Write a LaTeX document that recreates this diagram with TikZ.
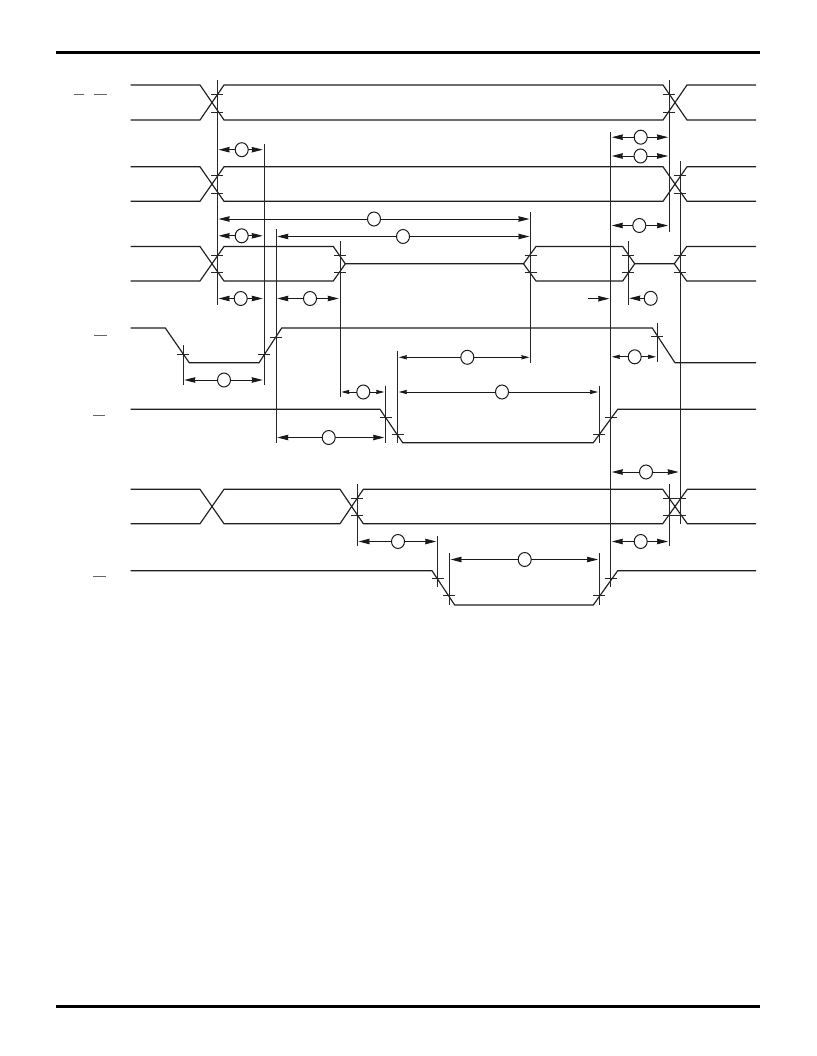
\documentclass[tikz,border=0pt]{standalone}
\usetikzlibrary{arrows.meta,shapes.geometric}
\tikzset{
  x=1pt,y=-1pt,
  wave/.style={line width=1.15pt,line join=miter,draw=black!88},
  mark line/.style={line width=1pt,draw=black!85},
  tick/.style={line width=0.85pt,draw=black!85},
  rule/.style={line width=3pt,draw=black},
  bar/.style={line width=0.9pt,draw=black!60},
  bubble/.style={ellipse,draw=black!90,line width=1pt,fill=white,minimum width=13pt,minimum height=14pt,inner sep=0pt,outer sep=0pt},
  dim/.style={line width=0.85pt,draw=black!90,-{Stealth[length=11pt,width=5.5pt,inset=0.5pt]},shorten >=1.3pt},
  smalldim/.style={line width=0.85pt,draw=black!90,-{Stealth[length=8pt,width=4.2pt,inset=0.5pt]},shorten >=1.3pt}
}
% dimension line: #1 name, #2 y, #3 left x, #4 right x, #5 bubble x, #6 style
\newcommand{\dimbar}[6]{%
  \coordinate (#1L) at (#3,#2);
  \coordinate (#1R) at (#4,#2);
  \node[bubble] (#1) at (#5,#2) {};
  \draw[#6] (#1) -- (#1L);
  \draw[#6] (#1) -- (#1R);
}
% pair of ticks at one x
\newcommand{\tickat}[2]{\draw[tick] (#1-6,#2) -- (#1+6,#2);}
\newcommand{\vmark}[3]{\draw[mark line] (#1,#2) -- (#1,#3);}
\begin{document}
\begin{tikzpicture}
\useasboundingbox (0,0) rectangle (816,1056);
\fill[white] (0,0) rectangle (816,1056);
% page rules
\draw[rule] (56,52.5) -- (760,52.5);
\draw[rule] (56,1006) -- (760,1006);
% signal label bars
\draw[bar] (74,94.3) -- (83.5,94.3);
\draw[bar] (94,94.3) -- (107.3,94.3);
\draw[bar] (94,335.5) -- (106.5,335.5);
\draw[bar] (93.3,415.7) -- (105,415.7);
\draw[bar] (93.3,576.7) -- (105.5,576.7);
% wave 1
\draw[wave] (130.5,85) -- (200,85) -- (224,120) -- (663,120) -- (687,85) -- (756,85);
\draw[wave] (130.5,120) -- (200,120) -- (224,85) -- (663,85) -- (687,120) -- (756,120);
% wave 2
\draw[wave] (130.5,166.8) -- (200,166.8) -- (224,201.3) -- (663,201.3) -- (687,166.8) -- (756,166.8);
\draw[wave] (130.5,201.3) -- (200,201.3) -- (224,166.8) -- (663,166.8) -- (687,201.3) -- (756,201.3);
% wave 3
\draw[wave] (130.5,246.5) -- (200,246.5) -- (224,281) -- (333.3,281) -- (345.3,263.8) -- (523.5,263.8) -- (536,246.5) -- (622.7,246.5) -- (634.7,263.8) -- (674.3,263.8) -- (686.7,246.5) -- (756,246.5);
\draw[wave] (130.5,281) -- (200,281) -- (224,246.5) -- (333.3,246.5) -- (345.3,263.8);
\draw[wave] (523.5,263.8) -- (536,281) -- (622.7,281) -- (634.7,263.8);
\draw[wave] (674.3,263.8) -- (686.7,281) -- (756,281);
% wave 4
\draw[wave] (130.5,328) -- (165.3,328) -- (189.3,362.8) -- (259,362.8) -- (281.7,328) -- (652.3,328) -- (675,362.8) -- (756,362.8);
% wave 5
\draw[wave] (130.5,409.3) -- (380,409.3) -- (402.7,442.7) -- (593.3,442.7) -- (617.7,409.3) -- (756,409.3);
% wave 6
\draw[wave] (130.5,489.3) -- (200,489.3) -- (224,523.7) -- (340,523.7) -- (363.3,489.3) -- (662.7,489.3) -- (687.3,523.7) -- (756,523.7);
\draw[wave] (130.5,523.7) -- (200,523.7) -- (224,489.3) -- (340,489.3) -- (363.3,523.7) -- (662.7,523.7) -- (687.3,489.3) -- (756,489.3);
% wave 7
\draw[wave] (130.5,570.7) -- (432,570.7) -- (454.7,605) -- (593.3,605) -- (617.7,570.7) -- (756,570.7);
% vertical timing marks
\vmark{217.3}{80}{305}
\vmark{264}{144}{385}
\vmark{276}{229}{442.5}
\vmark{340}{241.3}{396.7}
\vmark{530.7}{212}{362.7}
\vmark{610.5}{132}{587}
\vmark{669.3}{80}{231.7}
\vmark{680}{161.3}{523.5}
\vmark{628}{241}{305}
\vmark{657.3}{322.7}{362.3}
\vmark{183}{345}{385}
\vmark{385.5}{385.7}{442.5}
\vmark{397.5}{350.7}{442.7}
\vmark{599.3}{385.7}{442.7}
\vmark{357.3}{484}{546}
\vmark{669.3}{484}{546}
\vmark{437.5}{536}{587}
\vmark{449.3}{553.3}{605}
\vmark{599.3}{553.3}{605}
% ticks
\tickat{217.3}{94.3}\tickat{217.3}{112}
\tickat{669.3}{94.3}\tickat{669.3}{112}
\tickat{217.3}{175.7}\tickat{217.3}{193}
\tickat{680}{175.7}\tickat{680}{193}
\tickat{217.3}{255}\tickat{217.3}{272.8}
\tickat{340}{255}\tickat{340}{272.8}
\tickat{530.7}{255}\tickat{530.7}{272.8}
\tickat{628}{255}\tickat{628}{272.8}
\tickat{680}{255}\tickat{680}{272.8}
\tickat{183}{354.3}\tickat{264}{354.3}
\tickat{276}{337}\tickat{657.3}{336.7}
\tickat{385.5}{417.3}\tickat{397.5}{434.3}
\tickat{599.3}{434.3}\tickat{610.5}{417.3}
\tickat{357.3}{498.7}\tickat{357.3}{515.3}
\tickat{669.3}{498.7}\tickat{669.3}{515.3}
\tickat{680}{498.7}\tickat{680}{515.3}
\tickat{437.5}{578}\tickat{449.3}{595.3}
\tickat{599.3}{595.3}\tickat{610.5}{578}
% dimension lines with bubbles
\dimbar{da}{149.7}{217.3}{264}{241.7}{dim}
\dimbar{db}{137.2}{610.5}{669.3}{640.7}{dim}
\dimbar{dc}{156}{610.5}{669.3}{640.5}{dim}
\dimbar{dd}{225.5}{610.5}{669.3}{639.3}{dim}
\dimbar{de}{219}{217.3}{530.7}{374}{dim}
\dimbar{df}{235.8}{217.3}{264}{241.7}{dim}
\dimbar{dg}{236.5}{276}{530.7}{403}{dim}
\dimbar{dh}{298.5}{217.3}{264}{240.7}{dim}
\dimbar{di}{298.5}{276}{340}{310}{dim}
\dimbar{dj}{380}{183}{264}{224}{dim}
\dimbar{dk}{392}{340}{385.5}{363.3}{smalldim}
\dimbar{dl}{437.5}{276}{385.5}{328.7}{dim}
\dimbar{dm}{357.3}{397.5}{530.7}{467.3}{smalldim}
\dimbar{dn}{392}{397.5}{599.3}{502}{smalldim}
\dimbar{do}{356.8}{610.5}{657.3}{634.7}{smalldim}
\dimbar{dp}{472}{610.5}{680}{646}{dim}
\dimbar{dq}{541.5}{357.3}{437.5}{398}{dim}
\dimbar{dr}{541.5}{610.5}{669.3}{640.7}{dim}
\dimbar{ds}{559.5}{449.3}{599.3}{524.7}{dim}
% outside arrows at the data-hold gap
\coordinate (ouL) at (588,298.7);
\coordinate (ouR) at (610.5,298.7);
\draw[dim] (ouL) -- (ouR);
\coordinate (otL) at (628,298.3);
\node[bubble] (ot) at (650.7,298.3) {};
\draw[dim] (ot) -- (otL);
\end{tikzpicture}
\end{document}
